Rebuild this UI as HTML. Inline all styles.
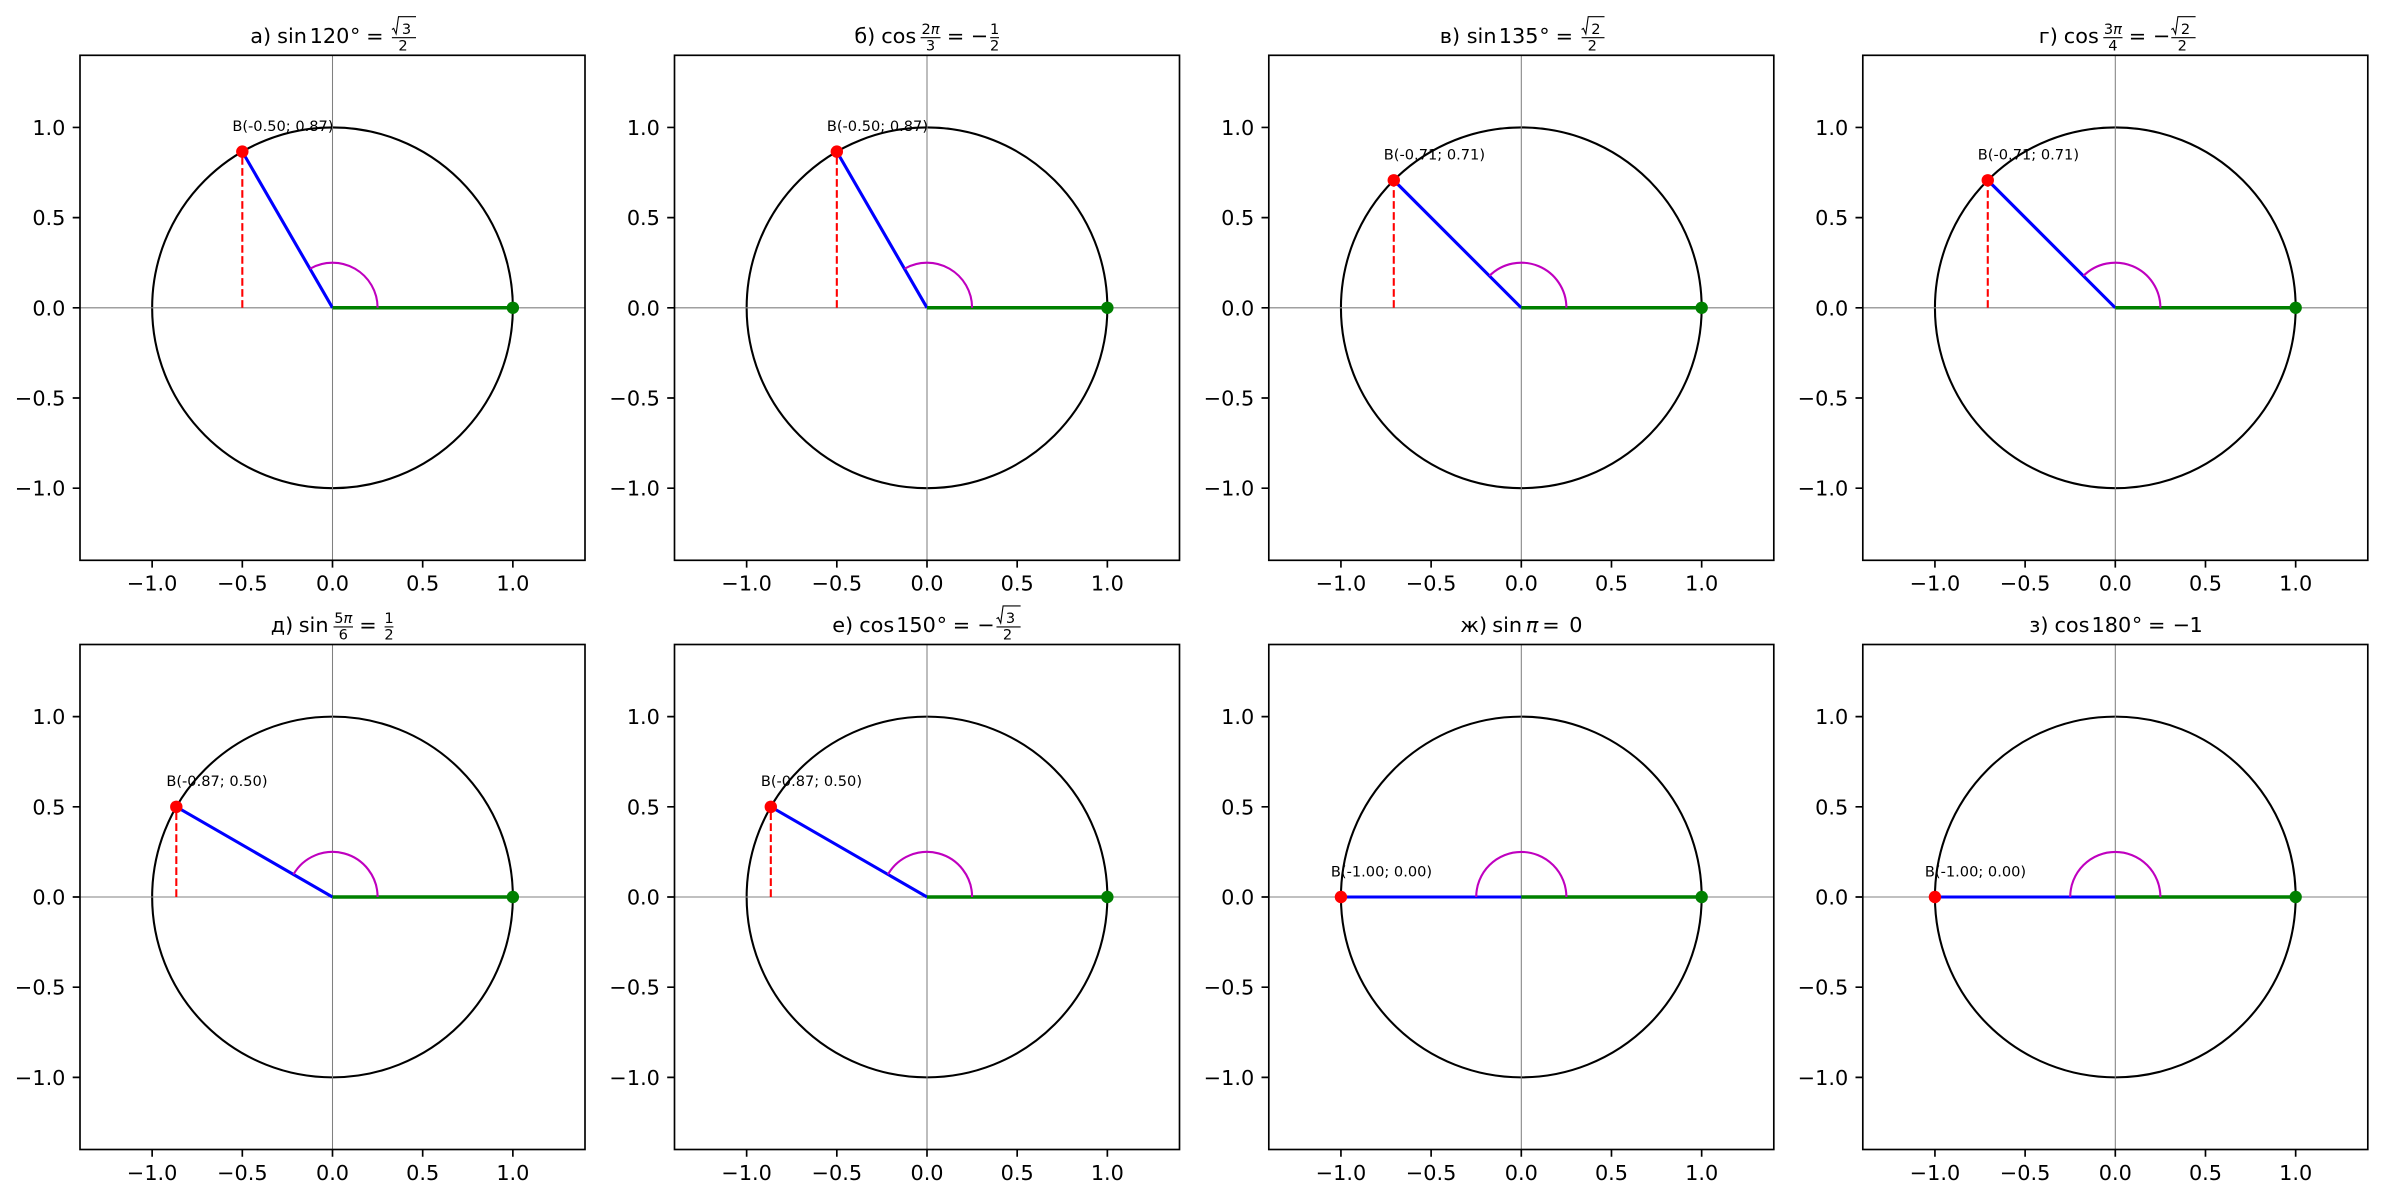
<!DOCTYPE html>
<html>
<head>
<meta charset="utf-8">
<style>
html,body{margin:0;padding:0;background:#fff;}
svg{display:block;}
text{font-family:"DejaVu Sans","Liberation Sans","Noto Sans CJK SC",sans-serif;fill:#000;}
.tl{font-size:20.8px;}
.f{font-size:14.6px;}
.an{font-size:14.6px;}
.it{font-style:italic;}
</style>
</head>
<body>
<svg width="2383" height="1199" viewBox="0 0 2383 1199" xmlns="http://www.w3.org/2000/svg">
<rect width="2383" height="1199" fill="#fff"/>

<!-- ================= Subplot 1: 120 ================= -->
<g transform="translate(332.5,307.8)">
  <circle r="180.36" fill="none" stroke="#000" stroke-width="2.08"/>
  <path d="M-252.5 0H252.5M0 -252.5V252.5" stroke="#808080" stroke-width="1.04"/>
  <line x1="0" y1="0" x2="-90.18" y2="-156.19" stroke="#0000ff" stroke-width="3.1"/>
  <line x1="0" y1="0" x2="180.36" y2="0" stroke="#008000" stroke-width="3.5"/>
  <line x1="-90.18" y1="0" x2="-90.18" y2="-156.19" stroke="#ff0000" stroke-width="2.08" stroke-dasharray="7.7 3.3"/>
  <path d="M45.09 0A45.09 45.09 0 0 0 -22.545 -39.05" fill="none" stroke="#bf00bf" stroke-width="2.1"/>
  <circle cx="-90.18" cy="-156.19" r="6.2" fill="#ff0000"/>
  <circle cx="180.36" cy="0" r="6.2" fill="#008000"/>
  <text class="an" x="-100.2" y="-176.8">B(-0.50; 0.87)</text>
  <rect x="-252.5" y="-252.5" width="505" height="505" fill="none" stroke="#000" stroke-width="1.67"/>
  <path d="M-180.36 252.5v7.3M-90.18 252.5v7.3M0 252.5v7.3M90.18 252.5v7.3M180.36 252.5v7.3M-252.5 -180.36h-7.3M-252.5 -90.18h-7.3M-252.5 0h-7.3M-252.5 90.18h-7.3M-252.5 180.36h-7.3" stroke="#000" stroke-width="1.67"/>
  <g class="tl">
    <text x="-180.36" y="282.9" text-anchor="middle">−1.0</text>
    <text x="-90.18" y="282.9" text-anchor="middle">−0.5</text>
    <text x="0" y="282.9" text-anchor="middle">0.0</text>
    <text x="90.18" y="282.9" text-anchor="middle">0.5</text>
    <text x="180.36" y="282.9" text-anchor="middle">1.0</text>
    <text x="-267.1" y="-172.9" text-anchor="end">1.0</text>
    <text x="-267.1" y="-82.7" text-anchor="end">0.5</text>
    <text x="-267.1" y="7.5" text-anchor="end">0.0</text>
    <text x="-267.1" y="97.7" text-anchor="end">−0.5</text>
    <text x="-267.1" y="187.9" text-anchor="end">−1.0</text>
  </g>
</g>
<g transform="translate(332.5,43)" class="tl">
  <text x="-82.3" y="0">а)</text>
  <text x="-55.4" y="0">sin</text>
  <text x="-22.9" y="0">120</text>
  <text x="17.5" y="0">°</text>
  <text x="33.6" y="0">=</text>
  <path d="M59.4 -13.5L61.2 -14.6L63.6 -9.2L66 -26.3H83.5" fill="none" stroke="#000" stroke-width="1.1"/>
  <text class="f" x="74" y="-9" text-anchor="middle">3</text>
  <line x1="59.4" y1="-5.3" x2="83.5" y2="-5.3" stroke="#000" stroke-width="1.1"/>
  <text class="f" x="70.5" y="7.5" text-anchor="middle">2</text>
</g>

<!-- ================= Subplot 2: 120 (cos 2pi/3) ================= -->
<g transform="translate(927,307.8)">
  <circle r="180.36" fill="none" stroke="#000" stroke-width="2.08"/>
  <path d="M-252.5 0H252.5M0 -252.5V252.5" stroke="#808080" stroke-width="1.04"/>
  <line x1="0" y1="0" x2="-90.18" y2="-156.19" stroke="#0000ff" stroke-width="3.1"/>
  <line x1="0" y1="0" x2="180.36" y2="0" stroke="#008000" stroke-width="3.5"/>
  <line x1="-90.18" y1="0" x2="-90.18" y2="-156.19" stroke="#ff0000" stroke-width="2.08" stroke-dasharray="7.7 3.3"/>
  <path d="M45.09 0A45.09 45.09 0 0 0 -22.545 -39.05" fill="none" stroke="#bf00bf" stroke-width="2.1"/>
  <circle cx="-90.18" cy="-156.19" r="6.2" fill="#ff0000"/>
  <circle cx="180.36" cy="0" r="6.2" fill="#008000"/>
  <text class="an" x="-100.2" y="-176.8">B(-0.50; 0.87)</text>
  <rect x="-252.5" y="-252.5" width="505" height="505" fill="none" stroke="#000" stroke-width="1.67"/>
  <path d="M-180.36 252.5v7.3M-90.18 252.5v7.3M0 252.5v7.3M90.18 252.5v7.3M180.36 252.5v7.3M-252.5 -180.36h-7.3M-252.5 -90.18h-7.3M-252.5 0h-7.3M-252.5 90.18h-7.3M-252.5 180.36h-7.3" stroke="#000" stroke-width="1.67"/>
  <g class="tl">
    <text x="-180.36" y="282.9" text-anchor="middle">−1.0</text>
    <text x="-90.18" y="282.9" text-anchor="middle">−0.5</text>
    <text x="0" y="282.9" text-anchor="middle">0.0</text>
    <text x="90.18" y="282.9" text-anchor="middle">0.5</text>
    <text x="180.36" y="282.9" text-anchor="middle">1.0</text>
    <text x="-267.1" y="-172.9" text-anchor="end">1.0</text>
    <text x="-267.1" y="-82.7" text-anchor="end">0.5</text>
    <text x="-267.1" y="7.5" text-anchor="end">0.0</text>
    <text x="-267.1" y="97.7" text-anchor="end">−0.5</text>
    <text x="-267.1" y="187.9" text-anchor="end">−1.0</text>
  </g>
</g>
<g transform="translate(927,43)" class="tl">
  <text x="-72.7" y="0">б)</text>
  <text x="-45.8" y="0">cos</text>
  <text class="f" x="3.5" y="-9" text-anchor="middle">2<tspan class="it">π</tspan></text>
  <line x1="-6.4" y1="-5.3" x2="13.5" y2="-5.3" stroke="#000" stroke-width="1.1"/>
  <text class="f" x="3.5" y="7.5" text-anchor="middle">3</text>
  <text x="19.9" y="0">=</text>
  <text x="43.9" y="0">−</text>
  <text class="f" x="67.6" y="-9" text-anchor="middle">1</text>
  <line x1="63.2" y1="-5.3" x2="72" y2="-5.3" stroke="#000" stroke-width="1.1"/>
  <text class="f" x="67.6" y="7.5" text-anchor="middle">2</text>
</g>

<!-- ================= Subplot 3: 135 ================= -->
<g transform="translate(1521.3,307.8)">
  <circle r="180.36" fill="none" stroke="#000" stroke-width="2.08"/>
  <path d="M-252.5 0H252.5M0 -252.5V252.5" stroke="#808080" stroke-width="1.04"/>
  <line x1="0" y1="0" x2="-127.53" y2="-127.53" stroke="#0000ff" stroke-width="3.1"/>
  <line x1="0" y1="0" x2="180.36" y2="0" stroke="#008000" stroke-width="3.5"/>
  <line x1="-127.53" y1="0" x2="-127.53" y2="-127.53" stroke="#ff0000" stroke-width="2.08" stroke-dasharray="7.7 3.3"/>
  <path d="M45.09 0A45.09 45.09 0 0 0 -31.88 -31.88" fill="none" stroke="#bf00bf" stroke-width="2.1"/>
  <circle cx="-127.53" cy="-127.53" r="6.2" fill="#ff0000"/>
  <circle cx="180.36" cy="0" r="6.2" fill="#008000"/>
  <text class="an" x="-137.5" y="-148.1">B(-0.71; 0.71)</text>
  <rect x="-252.5" y="-252.5" width="505" height="505" fill="none" stroke="#000" stroke-width="1.67"/>
  <path d="M-180.36 252.5v7.3M-90.18 252.5v7.3M0 252.5v7.3M90.18 252.5v7.3M180.36 252.5v7.3M-252.5 -180.36h-7.3M-252.5 -90.18h-7.3M-252.5 0h-7.3M-252.5 90.18h-7.3M-252.5 180.36h-7.3" stroke="#000" stroke-width="1.67"/>
  <g class="tl">
    <text x="-180.36" y="282.9" text-anchor="middle">−1.0</text>
    <text x="-90.18" y="282.9" text-anchor="middle">−0.5</text>
    <text x="0" y="282.9" text-anchor="middle">0.0</text>
    <text x="90.18" y="282.9" text-anchor="middle">0.5</text>
    <text x="180.36" y="282.9" text-anchor="middle">1.0</text>
    <text x="-267.1" y="-172.9" text-anchor="end">1.0</text>
    <text x="-267.1" y="-82.7" text-anchor="end">0.5</text>
    <text x="-267.1" y="7.5" text-anchor="end">0.0</text>
    <text x="-267.1" y="97.7" text-anchor="end">−0.5</text>
    <text x="-267.1" y="187.9" text-anchor="end">−1.0</text>
  </g>
</g>
<g transform="translate(1521.3,43)" class="tl">
  <text x="-81.5" y="0">в)</text>
  <text x="-54.6" y="0">sin</text>
  <text x="-22.5" y="0">135</text>
  <text x="17.9" y="0">°</text>
  <text x="34.3" y="0">=</text>
  <path d="M60.3 -13.5L62.1 -14.6L64.5 -9.2L66.9 -26.3H83.2" fill="none" stroke="#000" stroke-width="1.1"/>
  <text class="f" x="74.6" y="-9" text-anchor="middle">2</text>
  <line x1="60.3" y1="-5.3" x2="83.2" y2="-5.3" stroke="#000" stroke-width="1.1"/>
  <text class="f" x="71" y="7.5" text-anchor="middle">2</text>
</g>

<!-- ================= Subplot 4: 135 (cos 3pi/4) ================= -->
<g transform="translate(2115.3,307.8)">
  <circle r="180.36" fill="none" stroke="#000" stroke-width="2.08"/>
  <path d="M-252.5 0H252.5M0 -252.5V252.5" stroke="#808080" stroke-width="1.04"/>
  <line x1="0" y1="0" x2="-127.53" y2="-127.53" stroke="#0000ff" stroke-width="3.1"/>
  <line x1="0" y1="0" x2="180.36" y2="0" stroke="#008000" stroke-width="3.5"/>
  <line x1="-127.53" y1="0" x2="-127.53" y2="-127.53" stroke="#ff0000" stroke-width="2.08" stroke-dasharray="7.7 3.3"/>
  <path d="M45.09 0A45.09 45.09 0 0 0 -31.88 -31.88" fill="none" stroke="#bf00bf" stroke-width="2.1"/>
  <circle cx="-127.53" cy="-127.53" r="6.2" fill="#ff0000"/>
  <circle cx="180.36" cy="0" r="6.2" fill="#008000"/>
  <text class="an" x="-137.5" y="-148.1">B(-0.71; 0.71)</text>
  <rect x="-252.5" y="-252.5" width="505" height="505" fill="none" stroke="#000" stroke-width="1.67"/>
  <path d="M-180.36 252.5v7.3M-90.18 252.5v7.3M0 252.5v7.3M90.18 252.5v7.3M180.36 252.5v7.3M-252.5 -180.36h-7.3M-252.5 -90.18h-7.3M-252.5 0h-7.3M-252.5 90.18h-7.3M-252.5 180.36h-7.3" stroke="#000" stroke-width="1.67"/>
  <g class="tl">
    <text x="-180.36" y="282.9" text-anchor="middle">−1.0</text>
    <text x="-90.18" y="282.9" text-anchor="middle">−0.5</text>
    <text x="0" y="282.9" text-anchor="middle">0.0</text>
    <text x="90.18" y="282.9" text-anchor="middle">0.5</text>
    <text x="180.36" y="282.9" text-anchor="middle">1.0</text>
    <text x="-267.1" y="-172.9" text-anchor="end">1.0</text>
    <text x="-267.1" y="-82.7" text-anchor="end">0.5</text>
    <text x="-267.1" y="7.5" text-anchor="end">0.0</text>
    <text x="-267.1" y="97.7" text-anchor="end">−0.5</text>
    <text x="-267.1" y="187.9" text-anchor="end">−1.0</text>
  </g>
</g>
<g transform="translate(2115.3,43)" class="tl">
  <text x="-76.5" y="0">г)</text>
  <text x="-51.5" y="0">cos</text>
  <text class="f" x="-2.4" y="-9" text-anchor="middle">3<tspan class="it">π</tspan></text>
  <line x1="-12" y1="-5.3" x2="7.2" y2="-5.3" stroke="#000" stroke-width="1.1"/>
  <text class="f" x="-2.4" y="7.5" text-anchor="middle">4</text>
  <text x="13.5" y="0">=</text>
  <text x="37.7" y="0">−</text>
  <path d="M56 -13.5L57.8 -14.6L60.2 -9.2L62.6 -26.3H80.3" fill="none" stroke="#000" stroke-width="1.1"/>
  <text class="f" x="70.2" y="-9" text-anchor="middle">2</text>
  <line x1="56" y1="-5.3" x2="80.3" y2="-5.3" stroke="#000" stroke-width="1.1"/>
  <text class="f" x="67" y="7.5" text-anchor="middle">2</text>
</g>

<!-- ================= Subplot 5: 150 (sin 5pi/6) ================= -->
<g transform="translate(332.5,897)">
  <circle r="180.36" fill="none" stroke="#000" stroke-width="2.08"/>
  <path d="M-252.5 0H252.5M0 -252.5V252.5" stroke="#808080" stroke-width="1.04"/>
  <line x1="0" y1="0" x2="-156.19" y2="-90.18" stroke="#0000ff" stroke-width="3.1"/>
  <line x1="0" y1="0" x2="180.36" y2="0" stroke="#008000" stroke-width="3.5"/>
  <line x1="-156.19" y1="0" x2="-156.19" y2="-90.18" stroke="#ff0000" stroke-width="2.08" stroke-dasharray="7.7 3.3"/>
  <path d="M45.09 0A45.09 45.09 0 0 0 -39.05 -22.545" fill="none" stroke="#bf00bf" stroke-width="2.1"/>
  <circle cx="-156.19" cy="-90.18" r="6.2" fill="#ff0000"/>
  <circle cx="180.36" cy="0" r="6.2" fill="#008000"/>
  <text class="an" x="-166.2" y="-110.8">B(-0.87; 0.50)</text>
  <rect x="-252.5" y="-252.5" width="505" height="505" fill="none" stroke="#000" stroke-width="1.67"/>
  <path d="M-180.36 252.5v7.3M-90.18 252.5v7.3M0 252.5v7.3M90.18 252.5v7.3M180.36 252.5v7.3M-252.5 -180.36h-7.3M-252.5 -90.18h-7.3M-252.5 0h-7.3M-252.5 90.18h-7.3M-252.5 180.36h-7.3" stroke="#000" stroke-width="1.67"/>
  <g class="tl">
    <text x="-180.36" y="282.9" text-anchor="middle">−1.0</text>
    <text x="-90.18" y="282.9" text-anchor="middle">−0.5</text>
    <text x="0" y="282.9" text-anchor="middle">0.0</text>
    <text x="90.18" y="282.9" text-anchor="middle">0.5</text>
    <text x="180.36" y="282.9" text-anchor="middle">1.0</text>
    <text x="-267.1" y="-172.9" text-anchor="end">1.0</text>
    <text x="-267.1" y="-82.7" text-anchor="end">0.5</text>
    <text x="-267.1" y="7.5" text-anchor="end">0.0</text>
    <text x="-267.1" y="97.7" text-anchor="end">−0.5</text>
    <text x="-267.1" y="187.9" text-anchor="end">−1.0</text>
  </g>
</g>
<g transform="translate(332.5,632.2)" class="tl">
  <text x="-61.8" y="0">д)</text>
  <text x="-33.8" y="0">sin</text>
  <text class="f" x="10.75" y="-9" text-anchor="middle">5<tspan class="it">π</tspan></text>
  <line x1="1" y1="-5.3" x2="20.5" y2="-5.3" stroke="#000" stroke-width="1.1"/>
  <text class="f" x="10.75" y="7.5" text-anchor="middle">6</text>
  <text x="26.8" y="0">=</text>
  <text class="f" x="56.5" y="-9" text-anchor="middle">1</text>
  <line x1="52.1" y1="-5.3" x2="60.9" y2="-5.3" stroke="#000" stroke-width="1.1"/>
  <text class="f" x="56.5" y="7.5" text-anchor="middle">2</text>
</g>

<!-- ================= Subplot 6: 150 (cos 150) ================= -->
<g transform="translate(927,897)">
  <circle r="180.36" fill="none" stroke="#000" stroke-width="2.08"/>
  <path d="M-252.5 0H252.5M0 -252.5V252.5" stroke="#808080" stroke-width="1.04"/>
  <line x1="0" y1="0" x2="-156.19" y2="-90.18" stroke="#0000ff" stroke-width="3.1"/>
  <line x1="0" y1="0" x2="180.36" y2="0" stroke="#008000" stroke-width="3.5"/>
  <line x1="-156.19" y1="0" x2="-156.19" y2="-90.18" stroke="#ff0000" stroke-width="2.08" stroke-dasharray="7.7 3.3"/>
  <path d="M45.09 0A45.09 45.09 0 0 0 -39.05 -22.545" fill="none" stroke="#bf00bf" stroke-width="2.1"/>
  <circle cx="-156.19" cy="-90.18" r="6.2" fill="#ff0000"/>
  <circle cx="180.36" cy="0" r="6.2" fill="#008000"/>
  <text class="an" x="-166.2" y="-110.8">B(-0.87; 0.50)</text>
  <rect x="-252.5" y="-252.5" width="505" height="505" fill="none" stroke="#000" stroke-width="1.67"/>
  <path d="M-180.36 252.5v7.3M-90.18 252.5v7.3M0 252.5v7.3M90.18 252.5v7.3M180.36 252.5v7.3M-252.5 -180.36h-7.3M-252.5 -90.18h-7.3M-252.5 0h-7.3M-252.5 90.18h-7.3M-252.5 180.36h-7.3" stroke="#000" stroke-width="1.67"/>
  <g class="tl">
    <text x="-180.36" y="282.9" text-anchor="middle">−1.0</text>
    <text x="-90.18" y="282.9" text-anchor="middle">−0.5</text>
    <text x="0" y="282.9" text-anchor="middle">0.0</text>
    <text x="90.18" y="282.9" text-anchor="middle">0.5</text>
    <text x="180.36" y="282.9" text-anchor="middle">1.0</text>
    <text x="-267.1" y="-172.9" text-anchor="end">1.0</text>
    <text x="-267.1" y="-82.7" text-anchor="end">0.5</text>
    <text x="-267.1" y="7.5" text-anchor="end">0.0</text>
    <text x="-267.1" y="97.7" text-anchor="end">−0.5</text>
    <text x="-267.1" y="187.9" text-anchor="end">−1.0</text>
  </g>
</g>
<g transform="translate(927,632.2)" class="tl">
  <text x="-94.8" y="0">е)</text>
  <text x="-67.8" y="0">cos</text>
  <text x="-30.8" y="0">150</text>
  <text x="9.6" y="0">°</text>
  <text x="25.7" y="0">=</text>
  <text x="50.4" y="0">−</text>
  <path d="M69.5 -13.5L71.3 -14.6L73.7 -9.2L76.1 -26.3H93.6" fill="none" stroke="#000" stroke-width="1.1"/>
  <text class="f" x="83.5" y="-9" text-anchor="middle">3</text>
  <line x1="69.5" y1="-5.3" x2="93.6" y2="-5.3" stroke="#000" stroke-width="1.1"/>
  <text class="f" x="80.5" y="7.5" text-anchor="middle">2</text>
</g>

<!-- ================= Subplot 7: 180 (sin pi) ================= -->
<g transform="translate(1521.3,897)">
  <circle r="180.36" fill="none" stroke="#000" stroke-width="2.08"/>
  <path d="M-252.5 0H252.5M0 -252.5V252.5" stroke="#808080" stroke-width="1.04"/>
  <line x1="0" y1="0" x2="-180.36" y2="0" stroke="#0000ff" stroke-width="3.1"/>
  <line x1="0" y1="0" x2="180.36" y2="0" stroke="#008000" stroke-width="3.5"/>
  <path d="M45.09 0A45.09 45.09 0 0 0 -45.09 0" fill="none" stroke="#bf00bf" stroke-width="2.1"/>
  <circle cx="-180.36" cy="0" r="6.2" fill="#ff0000"/>
  <circle cx="180.36" cy="0" r="6.2" fill="#008000"/>
  <text class="an" x="-190.4" y="-20.6">B(-1.00; 0.00)</text>
  <rect x="-252.5" y="-252.5" width="505" height="505" fill="none" stroke="#000" stroke-width="1.67"/>
  <path d="M-180.36 252.5v7.3M-90.18 252.5v7.3M0 252.5v7.3M90.18 252.5v7.3M180.36 252.5v7.3M-252.5 -180.36h-7.3M-252.5 -90.18h-7.3M-252.5 0h-7.3M-252.5 90.18h-7.3M-252.5 180.36h-7.3" stroke="#000" stroke-width="1.67"/>
  <g class="tl">
    <text x="-180.36" y="282.9" text-anchor="middle">−1.0</text>
    <text x="-90.18" y="282.9" text-anchor="middle">−0.5</text>
    <text x="0" y="282.9" text-anchor="middle">0.0</text>
    <text x="90.18" y="282.9" text-anchor="middle">0.5</text>
    <text x="180.36" y="282.9" text-anchor="middle">1.0</text>
    <text x="-267.1" y="-172.9" text-anchor="end">1.0</text>
    <text x="-267.1" y="-82.7" text-anchor="end">0.5</text>
    <text x="-267.1" y="7.5" text-anchor="end">0.0</text>
    <text x="-267.1" y="97.7" text-anchor="end">−0.5</text>
    <text x="-267.1" y="187.9" text-anchor="end">−1.0</text>
  </g>
</g>
<g transform="translate(1521.3,632.2)" class="tl">
  <text x="-61" y="0">ж)</text>
  <text x="-29" y="0">sin</text>
  <text class="it" x="4.5" y="0">π</text>
  <text x="20.9" y="0">=</text>
  <text x="48" y="0">0</text>
</g>

<!-- ================= Subplot 8: 180 (cos 180) ================= -->
<g transform="translate(2115.3,897)">
  <circle r="180.36" fill="none" stroke="#000" stroke-width="2.08"/>
  <path d="M-252.5 0H252.5M0 -252.5V252.5" stroke="#808080" stroke-width="1.04"/>
  <line x1="0" y1="0" x2="-180.36" y2="0" stroke="#0000ff" stroke-width="3.1"/>
  <line x1="0" y1="0" x2="180.36" y2="0" stroke="#008000" stroke-width="3.5"/>
  <path d="M45.09 0A45.09 45.09 0 0 0 -45.09 0" fill="none" stroke="#bf00bf" stroke-width="2.1"/>
  <circle cx="-180.36" cy="0" r="6.2" fill="#ff0000"/>
  <circle cx="180.36" cy="0" r="6.2" fill="#008000"/>
  <text class="an" x="-190.4" y="-20.6">B(-1.00; 0.00)</text>
  <rect x="-252.5" y="-252.5" width="505" height="505" fill="none" stroke="#000" stroke-width="1.67"/>
  <path d="M-180.36 252.5v7.3M-90.18 252.5v7.3M0 252.5v7.3M90.18 252.5v7.3M180.36 252.5v7.3M-252.5 -180.36h-7.3M-252.5 -90.18h-7.3M-252.5 0h-7.3M-252.5 90.18h-7.3M-252.5 180.36h-7.3" stroke="#000" stroke-width="1.67"/>
  <g class="tl">
    <text x="-180.36" y="282.9" text-anchor="middle">−1.0</text>
    <text x="-90.18" y="282.9" text-anchor="middle">−0.5</text>
    <text x="0" y="282.9" text-anchor="middle">0.0</text>
    <text x="90.18" y="282.9" text-anchor="middle">0.5</text>
    <text x="180.36" y="282.9" text-anchor="middle">1.0</text>
    <text x="-267.1" y="-172.9" text-anchor="end">1.0</text>
    <text x="-267.1" y="-82.7" text-anchor="end">0.5</text>
    <text x="-267.1" y="7.5" text-anchor="end">0.0</text>
    <text x="-267.1" y="97.7" text-anchor="end">−0.5</text>
    <text x="-267.1" y="187.9" text-anchor="end">−1.0</text>
  </g>
</g>
<g transform="translate(2115.3,632.2)" class="tl">
  <text x="-86" y="0">з)</text>
  <text x="-60.8" y="0">cos</text>
  <text x="-23.8" y="0">180</text>
  <text x="16.6" y="0">°</text>
  <text x="32.7" y="0">=</text>
  <text x="57.4" y="0">−</text>
  <text x="74.2" y="0">1</text>
</g>

</svg>
</body>
</html>
